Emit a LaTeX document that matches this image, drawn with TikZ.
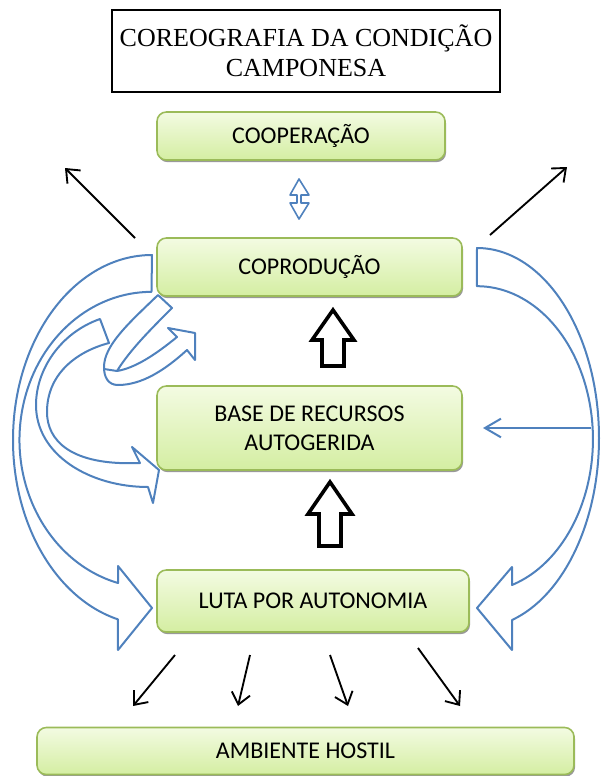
\documentclass[tikz,border=0pt]{standalone}
\usepackage{fontspec}
\setmainfont{Liberation Serif}
\newfontfamily\calibri{Carlito}
\usetikzlibrary{arrows.meta,shadows}

\definecolor{boxline}{HTML}{9BBB59}
\definecolor{boxtop}{HTML}{F3FBE2}
\definecolor{boxbottom}{HTML}{D4EEA2}
\definecolor{curveblue}{HTML}{4F81BD}

\begin{document}
\begin{tikzpicture}[x=0.75pt, y=-0.75pt,
  every node/.style={inner sep=0pt, outer sep=0pt, align=center},
  box/.style={draw=boxline, line width=1.2pt, rounded corners=7pt, top color=boxtop, bottom color=boxbottom,
    drop shadow={shadow xshift=0.8pt, shadow yshift=-1.6pt, fill=black!50, opacity=.8},
    font=\calibri\fontsize{18}{21.75}\selectfont},
  thinarrow/.style={line width=1.4pt, -{Straight Barb[length=8.5pt,width=14pt]}},
  bluecurve/.style={draw=curveblue, line width=1.5pt, line join=round},
  blockarrow/.style={draw=black, line width=2.7pt, fill=white, line join=miter}]
\useasboundingbox (0,0) rectangle (602,776);

\node[draw, line width=1pt, minimum width=291pt, minimum height=61.5pt, font=\fontsize{19.5}{22.5}\selectfont] (title) at (306,51) {COREOGRAFIA DA CONDIÇÃO\\CAMPONESA};

\node[box, minimum width=216pt, minimum height=36pt] (coop) at (301,136) {COOPERAÇÃO};
\node[box, minimum width=228.75pt, minimum height=43.5pt] (copro) at (309.5,267) {COPRODUÇÃO};
\node[box, minimum width=228.75pt, minimum height=63pt] (base) at (309.5,428) {BASE DE RECURSOS\\AUTOGERIDA};
\node[box, minimum width=234pt, minimum height=46.5pt] (luta) at (313,601) {LUTA POR AUTONOMIA};
\node[box, minimum width=402.75pt, minimum height=35.25pt] (hostil) at (305.5,751) {AMBIENTE HOSTIL};

% setas pretas
\coordinate (tl) at (135,238);
\coordinate (tlout) at (65,168);
\coordinate (tr) at (490,235);
\coordinate (trout) at (567,167);
\draw[thinarrow] (tl) -- (tlout);
\draw[thinarrow] (tr) -- (trout);

\coordinate (l1) at (175,655);
\coordinate (l2) at (250,655);
\coordinate (l3) at (330,655);
\coordinate (l4) at (418,648);
\coordinate (h1) at (133,706);
\coordinate (h2) at (238,706);
\coordinate (h3) at (348,706);
\coordinate (h4) at (460,706);
\draw[thinarrow] (l1) -- (h1);
\draw[thinarrow] (l2) -- (h2);
\draw[thinarrow] (l3) -- (h3);
\draw[thinarrow] (l4) -- (h4);

% setas largas
\draw[blockarrow] (333,310) -- (354,340) -- (344,340) -- (344,366) -- (322,366) -- (322,340) -- (312,340) -- cycle;
\draw[blockarrow] (330,482) -- (352,514) -- (341,514) -- (341,546) -- (319,546) -- (319,514) -- (308,514) -- cycle;

% setas azuis
\draw[bluecurve, line width=1.2pt] (299,179) -- (309,195) -- (301,195) -- (301,203) -- (309,203) -- (299,219) -- (290,203) -- (297,203) -- (297,195) -- (290,195) -- cycle;

\coordinate (rin) at (591,428);
\draw[draw=curveblue, line width=1.5pt, -{Straight Barb[length=12pt,width=14pt]}, shorten >=15.75pt] (rin) -- (base.east);

\draw[bluecurve] (152,255) arc[start angle=-90, end angle=-255.8, x radius=139, y radius=185]
  -- (118,650) -- (152,608) -- (118,566) -- (118,583)
  arc[start angle=-255.3, end angle=-90, x radius=132, y radius=148] -- cycle;

\draw[bluecurve] (477,248) arc[start angle=-90, end angle=73.3, x radius=122, y radius=190]
  -- (512,650) -- (477,608) -- (512,567) -- (512,585)
  arc[start angle=72.4, end angle=-90, x radius=116, y radius=153] -- cycle;

\draw[bluecurve] (158,295) .. controls (130,322) and (104,345) .. (104,367)
  .. controls (104,377) and (108,385) .. (118,385)
  .. controls (142,385) and (165,370) .. (187,350)
  -- (195,360) -- (195,333) -- (168,328) -- (177,337)
  .. controls (155,355) and (135,368) .. (117,371)
  .. controls (130,350) and (150,330) .. (172,308) -- cycle;
\draw[bluecurve] (104,369) -- (117,371);

\draw[bluecurve] (100,319) .. controls (60,333) and (36,370) .. (36,405)
  .. controls (36,455) and (90,487) .. (148,487)
  -- (153,503) -- (159,470) -- (132,447) -- (140,463)
  .. controls (70,466) and (47,440) .. (47,412)
  .. controls (47,375) and (75,352) .. (109,343) -- cycle;
\end{tikzpicture}
\end{document}
